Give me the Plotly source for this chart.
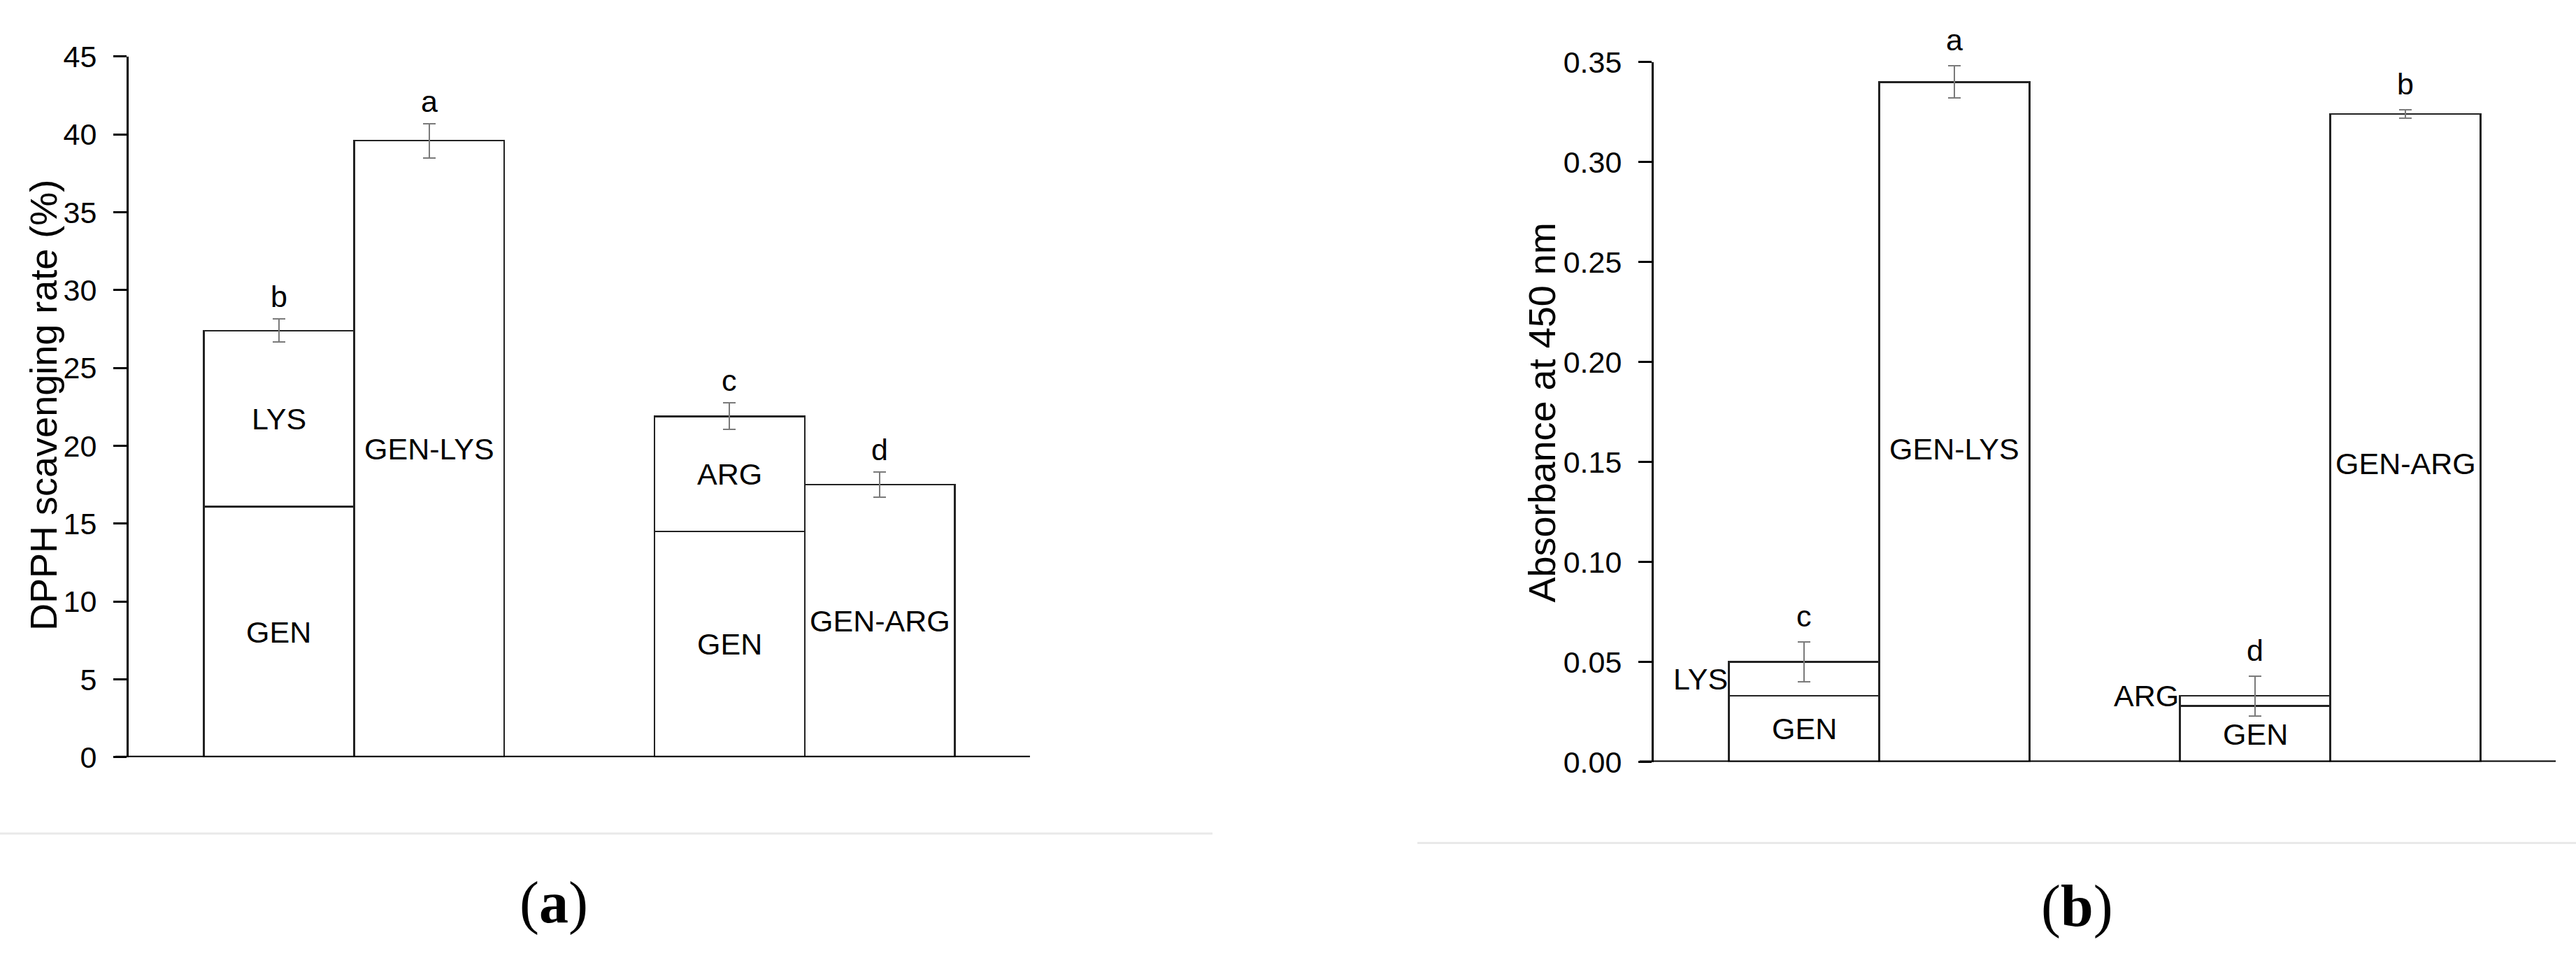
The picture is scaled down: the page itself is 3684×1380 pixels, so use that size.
import plotly.graph_objects as go

# figure (a): DPPH scavenging rate (%)
amino_names = ["LYS", "ARG"]
conj_names = ["GEN-LYS", "GEN-ARG"]
gen_a = [16.1, 14.5]
amino_a = [11.3, 7.4]            # stacked on top of GEN
sum_err_a = [0.75, 0.85]
conj_a = [39.6, 17.5]
conj_err_a = [1.1, 0.8]
sum_letters_a = ["b", "c"]
conj_letters_a = ["a", "d"]

# figure (b): absorbance at 450 nm
gen_b = [0.033, 0.028]
amino_b = [0.017, 0.005]
sum_err_b = [0.010, 0.010]
conj_b = [0.340, 0.324]
conj_err_b = [0.008, 0.002]
sum_letters_b = ["c", "d"]
conj_letters_b = ["a", "b"]

sum_pos = [0, 3]
conj_pos = [1, 4]

W, H = 3684, 1380
FONT = "Liberation Sans, Arial, sans-serif"
bar_line = dict(color="#222222", width=2.5)
err_style = dict(type="data", color="#7a7a7a", thickness=2, width=9)

fig = go.Figure()
annotations = []


def add_panel(xa, ya, gen, amino, sum_err, conj, conj_err, sum_letters, conj_letters,
              outside_amino, letter_shift):
    fig.add_trace(go.Bar(x=sum_pos, y=gen, width=1, marker=dict(color="white", line=bar_line),
                         xaxis=xa, yaxis=ya, showlegend=False))
    fig.add_trace(go.Bar(x=sum_pos, y=amino, width=1, marker=dict(color="white", line=bar_line),
                         error_y=dict(array=sum_err, **err_style),
                         xaxis=xa, yaxis=ya, showlegend=False))
    fig.add_trace(go.Bar(x=conj_pos, y=conj, width=1, marker=dict(color="white", line=bar_line),
                         error_y=dict(array=conj_err, **err_style),
                         xaxis=xa, yaxis=ya, showlegend=False))
    lab = dict(xref=xa, yref=ya, showarrow=False, font=dict(family=FONT, size=43, color="black"))
    for i in range(2):
        top = gen[i] + amino[i]
        annotations.append(dict(x=sum_pos[i], y=gen[i] / 2, text="GEN", **lab))
        if outside_amino:
            ay = top - amino[i] / 2 if amino[i] > 0.01 else top
            annotations.append(dict(x=sum_pos[i] - 0.5, y=ay, text=amino_names[i],
                                    xanchor="right", **lab))
            annotations.append(dict(x=conj_pos[i], y=conj[i] * 0.46, text=conj_names[i], **lab))
        else:
            annotations.append(dict(x=sum_pos[i], y=gen[i] + amino[i] / 2, text=amino_names[i], **lab))
            annotations.append(dict(x=conj_pos[i], y=conj[i] / 2, text=conj_names[i], **lab))
        annotations.append(dict(x=sum_pos[i], y=top + sum_err[i], text=sum_letters[i],
                                yanchor="bottom", yshift=letter_shift, **lab))
        annotations.append(dict(x=conj_pos[i], y=conj[i] + conj_err[i], text=conj_letters[i],
                                yanchor="bottom", yshift=letter_shift, **lab))


add_panel("x", "y", gen_a, amino_a, sum_err_a, conj_a, conj_err_a,
          sum_letters_a, conj_letters_a, False, 6)
add_panel("x2", "y2", gen_b, amino_b, sum_err_b, conj_b, conj_err_b,
          sum_letters_b, conj_letters_b, True, 11)

xax = dict(range=[-1, 5], showline=False, showgrid=False, zeroline=False,
           showticklabels=False, ticks="")
yax = dict(showline=True, linecolor="black", linewidth=3, ticks="outside", ticklen=19,
           tickwidth=3, tickcolor="black", showgrid=False, zeroline=False,
           tickfont=dict(family=FONT, size=43, color="black"), ticklabelstandoff=15)

paper_txt = dict(xref="paper", yref="paper", showarrow=False, xanchor="center", yanchor="middle")

# y titles
title_font = dict(family=FONT, size=54, color="black")
annotations.append(dict(x=62 / W, y=1 - 576 / H, text="DPPH scavenging rate (%)",
                        textangle=-90, font=title_font, **paper_txt))
annotations.append(dict(x=2205 / W, y=1 - 587 / H, text="Absorbance at 450 nm",
                        textangle=-90, font=title_font, **paper_txt))
# panel captions
cap_font = dict(family="Liberation Serif, DejaVu Serif, serif", size=84, color="black")
annotations.append(dict(x=792 / W, y=1 - 1313 / H, text="(<b>a</b>)", font=cap_font, **paper_txt))
annotations.append(dict(x=2970 / W, y=1 - 1318 / H, text="(<b>b</b>)", font=cap_font, **paper_txt))

shapes = [
    # x axis baselines (extend to the tick marks)
    dict(type="line", xref="paper", yref="y", x0=165 / W, x1=1473 / W, y0=0, y1=0,
         line=dict(color="black", width=4)),
    dict(type="line", xref="paper", yref="y2", x0=2345 / W, x1=3655 / W, y0=0, y1=0,
         line=dict(color="black", width=4)),
    # faint separators above the captions
    dict(type="line", xref="paper", yref="paper", x0=0, x1=1734 / W, y0=1 - 1210 / H, y1=1 - 1210 / H,
         line=dict(color="#e9e9e9", width=3)),
    dict(type="line", xref="paper", yref="paper", x0=2027 / W, x1=1, y0=1 - 1224 / H, y1=1 - 1224 / H,
         line=dict(color="#e9e9e9", width=3)),
]

fig.update_layout(
    width=W, height=H,
    margin=dict(l=0, r=0, t=0, b=0),
    paper_bgcolor="white", plot_bgcolor="white",
    barmode="stack",
    xaxis=dict(domain=[184 / W, 1473 / W], anchor="y", **xax),
    yaxis=dict(domain=[1 - 1097 / H, 1 - 59 / H], anchor="x", range=[0, 45], dtick=5, **yax),
    xaxis2=dict(domain=[2365 / W, 3655 / W], anchor="y2", **xax),
    yaxis2=dict(domain=[1 - 1104 / H, 1 - 67 / H], anchor="x2", range=[0, 0.35], dtick=0.05,
                tickformat=".2f", **yax),
    annotations=annotations,
    shapes=shapes,
)

fig.write_html("out.html", config={"displayModeBar": False},
               post_script="document.body.style.margin='0';")
